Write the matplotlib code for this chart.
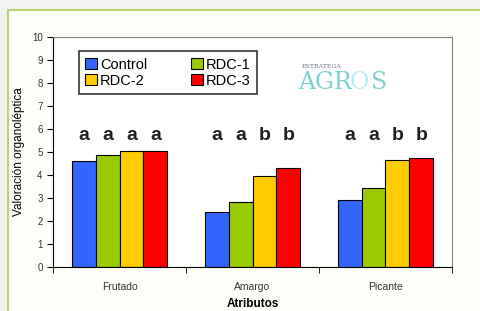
import matplotlib
matplotlib.use("Agg")
import matplotlib.pyplot as plt
from matplotlib.patches import Rectangle, Patch
import numpy as np

# data
atributos = ['Frutado', 'Amargo', 'Picante']
tratamientos = ['Control', 'RDC-1', 'RDC-2', 'RDC-3']
control = [4.6, 2.37, 2.9]
rdc1 = [4.87, 2.81, 3.45]
rdc2 = [5.04, 3.97, 4.67]
rdc3 = [5.04, 4.29, 4.73]
letras = [['a', 'a', 'a', 'a'],
          ['a', 'a', 'b', 'b'],
          ['a', 'a', 'b', 'b']]
colores = ['#3366ff', '#99cc00', '#ffcc00', '#ff0000']

plt.rcParams['font.family'] = ['Liberation Sans', 'DejaVu Sans']

fig = plt.figure(figsize=(4.81, 3.11), dpi=100, facecolor='#f1f3f3')
# cream panel with green frame
fig.patches.append(Rectangle((8/481, -0.01), 1.0, 1 - 10/311 + 0.01,
                             transform=fig.transFigure, facecolor='#fffffa',
                             edgecolor='#b9d46e', linewidth=1.5, zorder=-10))

ax = fig.add_axes([53/481, 1 - 267/311, 399/481, 230/311])
ax.set_facecolor('white')

series = [control, rdc1, rdc2, rdc3]
w = 0.18
x = np.arange(len(atributos))
for i, vals in enumerate(series):
    pos = x + (i - 1.5) * w
    ax.bar(pos, vals, width=w, color=colores[i], edgecolor='black',
           linewidth=0.8, zorder=2)
    for j, p in enumerate(pos):
        ax.text(p, 5.7, letras[j][i], ha='center', va='center',
                fontsize=14, fontweight='bold', color='#222222')

ax.set_xlim(-0.5, 2.5)
ax.set_ylim(0, 10)
ax.set_yticks(range(0, 11))
ax.set_xticks(x)
ax.set_xticklabels(atributos)
ax.set_xticks([-0.5, 0.5, 1.5, 2.5], minor=True)
ax.tick_params(axis='x', which='major', length=0, labelsize=7.5, pad=11, colors='#333333')
ax.tick_params(axis='x', which='minor', length=4, direction='out')
ax.tick_params(axis='y', length=4, labelsize=7, colors='black', labelcolor='#333333')

for s in ['top', 'right']:
    ax.spines[s].set_color('#808080')
for s in ['left', 'bottom']:
    ax.spines[s].set_color('black')

ax.set_ylabel('Valoración organoléptica', fontsize=8.5, labelpad=5)
ax.set_xlabel('Atributos', fontsize=8.5, fontweight='bold', labelpad=4)

handles = [Patch(facecolor=c, edgecolor='black', linewidth=0.8) for c in colores]
order = [0, 2, 1, 3]
leg = ax.legend([handles[k] for k in order], [tratamientos[k] for k in order],
                ncol=2, loc='upper left', bbox_to_anchor=(0.065, 0.939),
                borderaxespad=0, fontsize=10.5, frameon=True, fancybox=False,
                edgecolor='black', handlelength=0.8, handleheight=0.8,
                handletextpad=0.2, columnspacing=3.0, borderpad=0.45,
                labelspacing=0.15)
leg.get_frame().set_linewidth(1.2)

# logo
fig.text(302/481, 1 - 68/311, 'ESTRATEGA', fontsize=4.5, color='#6a7a8a',
         family='DejaVu Serif')
fig.text(298/481, 1 - 89/311, 'AGR', fontsize=17, color='#7fd0d0',
         family='DejaVu Serif')
fig.text(350/481, 1 - 89/311, 'O', fontsize=17, color='#b8ecf4',
         family='DejaVu Serif')
fig.text(371/481, 1 - 89/311, 'S', fontsize=17, color='#7fd0d0',
         family='DejaVu Serif')

fig.savefig('out.png', dpi=100, facecolor=fig.get_facecolor())
